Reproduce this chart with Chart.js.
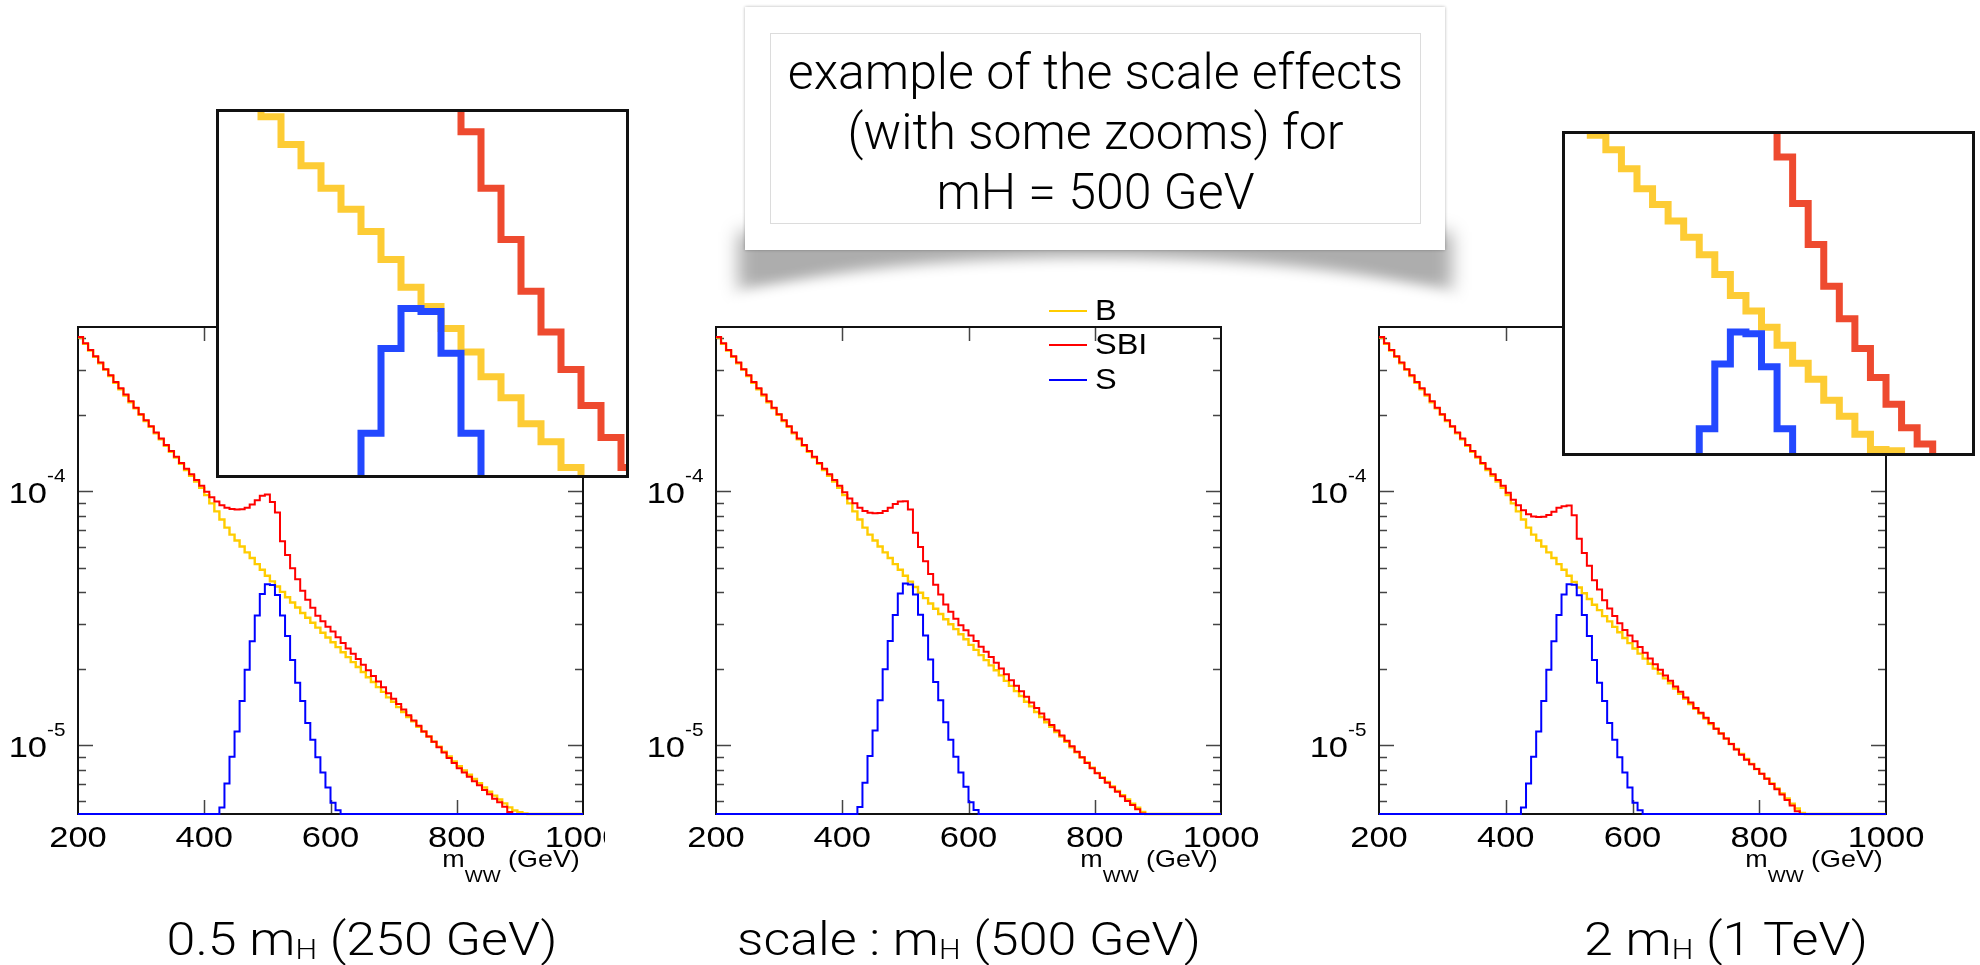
<!DOCTYPE html>
<html>
<head>
<meta charset="utf-8">
<script src="https://cdn.jsdelivr.net/npm/chart.js@4.4.1/dist/chart.umd.min.js"></script>
<style>
  html, body { margin: 0; padding: 0; background: #fff; }
  body { width: 1980px; height: 965px; position: relative; overflow: hidden;
         font-family: "Liberation Sans", Arial, Helvetica, sans-serif; color: #000; }
  .main { position: absolute; z-index: 1; }
  .inset { position: absolute; z-index: 2; border: 3px solid #111; background: #fff; }
  .inset canvas { display: block; }
  .xtitle { position: absolute; z-index: 3; font-size: 24px; line-height: 24px; white-space: nowrap;
            transform: scaleX(1.12); transform-origin: right top; }
  .xtitle .sub { position: relative; top: 15px; font-size: 17px; }
  .leg { position: absolute; z-index: 3; }
  .leg .ln { position: absolute; left: 0; width: 38px; height: 2px; }
  .leg .tx { position: absolute; left: 46px; font-size: 29px; line-height: 29px; white-space: nowrap;
             transform: scaleX(1.12); transform-origin: left top; }
  .cap { position: absolute; z-index: 3; width: 600px; text-align: center; white-space: nowrap;
         font-family: "Helvetica Neue", Roboto, "Open Sans", sans-serif; font-weight: 300;
         font-size: 46px; line-height: 46px; transform: scaleX(1.13); transform-origin: center top; }
  .cap sub { font-size: 27px; vertical-align: -4px; line-height: 0; }
  .tshadow { position: absolute; z-index: 0; left: 738px; top: 232px; width: 714px; height: 58px;
             background: rgba(0,0,0,0.32); filter: blur(9px); }
  .tcover { position: absolute; z-index: 0; left: 712px; top: 257px; width: 766px; height: 130px;
            border-radius: 50%; background: #fff; filter: blur(7px); }
  .tbox { position: absolute; z-index: 4; left: 745px; top: 7px; width: 700px; height: 243px;
          background: #fff; box-shadow: 0 0 3px rgba(0,0,0,0.3); }
  .tinner { position: absolute; left: 25px; top: 26px; width: 651px; height: 191px;
            border: 1px solid #dcdcdc; text-align: center;
            font-family: "Helvetica Neue", Roboto, "Open Sans", sans-serif; font-weight: 300;
            font-size: 50px; line-height: 60px; padding-top: 8px; box-sizing: border-box; }
</style>
</head>
<body>

<div class="tshadow"></div>
<div class="tcover"></div>
<div class="tbox"><div class="tinner">example of the scale effects<br>(with some zooms) for<br>mH = 500 GeV</div></div>

<canvas id="mainL" class="main" width="605" height="600" style="left:0px;top:300px"></canvas>
<canvas id="mainM" class="main" width="640" height="600" style="left:640px;top:300px"></canvas>
<canvas id="mainR" class="main" width="660" height="600" style="left:1300px;top:300px"></canvas>

<div class="inset" style="left:216px;top:109px"><canvas id="insetL" width="407" height="363"></canvas></div>
<div class="inset" style="left:1562px;top:131px"><canvas id="insetR" width="407" height="319"></canvas></div>

<div class="xtitle" style="right:1400px;top:847px">m<span class="sub">WW</span> (GeV)</div>
<div class="xtitle" style="right:762px;top:847px">m<span class="sub">WW</span> (GeV)</div>
<div class="xtitle" style="right:97px;top:847px">m<span class="sub">WW</span> (GeV)</div>

<div class="leg" style="left:1049px;top:0px">
  <div class="ln" style="top:310px;background:#ffcc00"></div><div class="tx" style="top:296px">B</div>
  <div class="ln" style="top:344px;background:#ff0000"></div><div class="tx" style="top:330px">SBI</div>
  <div class="ln" style="top:379px;background:#0000ff"></div><div class="tx" style="top:365px">S</div>
</div>

<div class="cap" style="left:62px;top:916px">0.5 m<sub>H</sub> (250 GeV)</div>
<div class="cap" style="left:669px;top:916px">scale : m<sub>H</sub> (500 GeV)</div>
<div class="cap" style="left:1426px;top:916px">2 m<sub>H</sub> (1 TeV)</div>

<script>
// histogram binning: 100 bins of 8 GeV from 200 to 1000
const BIN_START = 200;
const BIN_WIDTH = 8;

const xTickValues = [200, 400, 600, 800, 1000];
const xTickLabels = ['200', '400', '600', '800', '1000'];
const yDecades = [1e-5, 1e-4];
const yDecadeExp = ['-5', '-4'];

const Y_MIN = 5.35e-6;
const Y_MAX = 4.43e-4;

// ---- 0.5 mH ----
const leftB = [
  4.03e-4, 3.80e-4, 3.58e-4, 3.38e-4, 3.19e-4, 3.01e-4, 2.84e-4, 2.67e-4, 2.52e-4, 2.38e-4,
  2.24e-4, 2.12e-4, 2.00e-4, 1.89e-4, 1.79e-4, 1.69e-4, 1.60e-4, 1.51e-4, 1.43e-4, 1.355e-4,
  1.28e-4, 1.21e-4, 1.15e-4, 1.09e-4, 1.03e-4, 9.64e-5, 8.95e-5, 8.32e-5, 7.73e-5, 7.18e-5,
  6.74e-5, 6.39e-5, 6.05e-5, 5.74e-5, 5.45e-5, 5.16e-5, 4.90e-5, 4.64e-5, 4.41e-5, 4.21e-5,
  4.01e-5, 3.82e-5, 3.64e-5, 3.48e-5, 3.31e-5, 3.17e-5, 3.03e-5, 2.90e-5, 2.77e-5, 2.65e-5,
  2.54e-5, 2.43e-5, 2.32e-5, 2.22e-5, 2.12e-5, 2.03e-5, 1.94e-5, 1.85e-5, 1.77e-5, 1.69e-5,
  1.62e-5, 1.54e-5, 1.48e-5, 1.41e-5, 1.35e-5, 1.29e-5, 1.24e-5, 1.18e-5, 1.13e-5, 1.08e-5,
  1.03e-5, 9.86e-6, 9.42e-6, 9.01e-6, 8.61e-6, 8.25e-6, 7.94e-6, 7.64e-6, 7.35e-6, 7.07e-6,
  6.80e-6, 6.55e-6, 6.32e-6, 6.10e-6, 5.89e-6, 5.68e-6, 5.52e-6, 5.44e-6, 5.38e-6, 0,
  0, 0, 0, 0, 0, 0, 0, 0, 0, 0
];
const leftSBI = [
  4.05e-4, 3.82e-4, 3.60e-4, 3.40e-4, 3.21e-4, 3.02e-4, 2.86e-4, 2.69e-4, 2.54e-4, 2.40e-4,
  2.26e-4, 2.13e-4, 2.01e-4, 1.90e-4, 1.80e-4, 1.70e-4, 1.61e-4, 1.52e-4, 1.44e-4, 1.365e-4,
  1.29e-4, 1.225e-4, 1.165e-4, 1.105e-4, 1.05e-4, 9.95e-5, 9.45e-5, 9.10e-5, 8.80e-5, 8.60e-5,
  8.50e-5, 8.46e-5, 8.48e-5, 8.60e-5, 8.85e-5, 9.20e-5, 9.60e-5, 9.70e-5, 9.07e-5, 8.23e-5,
  6.35e-5, 5.60e-5, 4.97e-5, 4.50e-5, 4.05e-5, 3.73e-5, 3.47e-5, 3.23e-5, 3.07e-5, 2.92e-5,
  2.80e-5, 2.66e-5, 2.52e-5, 2.40e-5, 2.29e-5, 2.18e-5, 2.07e-5, 1.97e-5, 1.87e-5, 1.78e-5,
  1.69e-5, 1.60e-5, 1.52e-5, 1.45e-5, 1.38e-5, 1.31e-5, 1.25e-5, 1.19e-5, 1.13e-5, 1.08e-5,
  1.03e-5, 9.80e-6, 9.35e-6, 8.90e-6, 8.50e-6, 8.10e-6, 7.80e-6, 7.50e-6, 7.20e-6, 6.95e-6,
  6.65e-6, 6.40e-6, 6.15e-6, 5.95e-6, 5.72e-6, 5.45e-6, 0, 0, 0, 0,
  0, 0, 0, 0, 0, 0, 0, 0, 0, 0
];
const leftS = [
  0, 0, 0, 0, 0, 0, 0, 0, 0, 0,
  0, 0, 0, 0, 0, 0, 0, 0, 0, 0,
  0, 0, 0, 0, 0, 0, 0, 0, 5.67e-6, 7.05e-6,
  9.00e-6, 1.13e-5, 1.49e-5, 1.98e-5, 2.56e-5, 3.24e-5, 3.93e-5, 4.30e-5, 4.27e-5, 3.90e-5,
  3.24e-5, 2.69e-5, 2.16e-5, 1.76e-5, 1.49e-5, 1.22e-5, 1.05e-5, 8.95e-6, 7.79e-6, 6.81e-6,
  5.93e-6, 5.54e-6, 0, 0, 0, 0, 0, 0, 0, 0,
  0, 0, 0, 0, 0, 0, 0, 0, 0, 0,
  0, 0, 0, 0, 0, 0, 0, 0, 0, 0,
  0, 0, 0, 0, 0, 0, 0, 0, 0, 0,
  0, 0, 0, 0, 0, 0, 0, 0, 0, 0
];

// ---- mH ----
const midB = [
  4.03e-4, 3.80e-4, 3.58e-4, 3.38e-4, 3.19e-4, 3.01e-4, 2.84e-4, 2.67e-4, 2.52e-4, 2.38e-4,
  2.24e-4, 2.12e-4, 2.00e-4, 1.89e-4, 1.79e-4, 1.69e-4, 1.60e-4, 1.51e-4, 1.43e-4, 1.355e-4,
  1.28e-4, 1.21e-4, 1.15e-4, 1.09e-4, 1.03e-4, 9.64e-5, 8.95e-5, 8.32e-5, 7.73e-5, 7.18e-5,
  6.74e-5, 6.39e-5, 6.05e-5, 5.74e-5, 5.45e-5, 5.16e-5, 4.90e-5, 4.64e-5, 4.40e-5, 4.19e-5,
  3.98e-5, 3.79e-5, 3.61e-5, 3.44e-5, 3.28e-5, 3.13e-5, 2.99e-5, 2.86e-5, 2.73e-5, 2.61e-5,
  2.48e-5, 2.37e-5, 2.26e-5, 2.16e-5, 2.06e-5, 1.97e-5, 1.88e-5, 1.79e-5, 1.71e-5, 1.63e-5,
  1.56e-5, 1.48e-5, 1.42e-5, 1.35e-5, 1.29e-5, 1.23e-5, 1.18e-5, 1.125e-5, 1.08e-5, 1.03e-5,
  9.80e-6, 9.37e-6, 8.93e-6, 8.53e-6, 8.14e-6, 7.77e-6, 7.46e-6, 7.16e-6, 6.87e-6, 6.60e-6,
  6.34e-6, 6.10e-6, 5.87e-6, 5.66e-6, 5.45e-6, 0, 0, 0, 0, 0,
  0, 0, 0, 0, 0, 0, 0, 0, 0, 0
];
const midSBI = [
  4.05e-4, 3.82e-4, 3.60e-4, 3.40e-4, 3.21e-4, 3.02e-4, 2.86e-4, 2.69e-4, 2.54e-4, 2.40e-4,
  2.26e-4, 2.13e-4, 2.01e-4, 1.90e-4, 1.80e-4, 1.70e-4, 1.61e-4, 1.52e-4, 1.44e-4, 1.365e-4,
  1.29e-4, 1.225e-4, 1.165e-4, 1.105e-4, 1.05e-4, 9.90e-5, 9.35e-5, 8.95e-5, 8.60e-5, 8.35e-5,
  8.22e-5, 8.18e-5, 8.20e-5, 8.35e-5, 8.60e-5, 8.90e-5, 9.10e-5, 9.12e-5, 8.47e-5, 6.86e-5,
  6.02e-5, 5.29e-5, 4.72e-5, 4.28e-5, 3.92e-5, 3.58e-5, 3.35e-5, 3.14e-5, 2.96e-5, 2.83e-5,
  2.70e-5, 2.57e-5, 2.44e-5, 2.33e-5, 2.22e-5, 2.11e-5, 2.00e-5, 1.90e-5, 1.80e-5, 1.71e-5,
  1.63e-5, 1.55e-5, 1.47e-5, 1.40e-5, 1.33e-5, 1.26e-5, 1.20e-5, 1.14e-5, 1.09e-5, 1.04e-5,
  9.90e-6, 9.40e-6, 8.95e-6, 8.50e-6, 8.10e-6, 7.75e-6, 7.42e-6, 7.10e-6, 6.82e-6, 6.55e-6,
  6.28e-6, 6.02e-6, 5.80e-6, 5.58e-6, 5.38e-6, 0, 0, 0, 0, 0,
  0, 0, 0, 0, 0, 0, 0, 0, 0, 0
];
const midS = [
  0, 0, 0, 0, 0, 0, 0, 0, 0, 0,
  0, 0, 0, 0, 0, 0, 0, 0, 0, 0,
  0, 0, 0, 0, 0, 0, 0, 0, 5.70e-6, 7.10e-6,
  9.05e-6, 1.14e-5, 1.50e-5, 1.99e-5, 2.57e-5, 3.25e-5, 3.95e-5, 4.33e-5, 4.29e-5, 3.92e-5,
  3.26e-5, 2.70e-5, 2.17e-5, 1.77e-5, 1.50e-5, 1.23e-5, 1.05e-5, 9.00e-6, 7.80e-6, 6.85e-6,
  5.95e-6, 5.55e-6, 0, 0, 0, 0, 0, 0, 0, 0,
  0, 0, 0, 0, 0, 0, 0, 0, 0, 0,
  0, 0, 0, 0, 0, 0, 0, 0, 0, 0,
  0, 0, 0, 0, 0, 0, 0, 0, 0, 0,
  0, 0, 0, 0, 0, 0, 0, 0, 0, 0
];

// ---- 2 mH ----
const rightB = [
  4.03e-4, 3.80e-4, 3.58e-4, 3.38e-4, 3.19e-4, 3.01e-4, 2.84e-4, 2.67e-4, 2.52e-4, 2.38e-4,
  2.24e-4, 2.12e-4, 2.00e-4, 1.89e-4, 1.79e-4, 1.69e-4, 1.60e-4, 1.51e-4, 1.43e-4, 1.355e-4,
  1.28e-4, 1.21e-4, 1.15e-4, 1.09e-4, 1.03e-4, 9.64e-5, 8.95e-5, 8.32e-5, 7.73e-5, 7.18e-5,
  6.74e-5, 6.39e-5, 6.05e-5, 5.74e-5, 5.45e-5, 5.16e-5, 4.90e-5, 4.64e-5, 4.39e-5, 4.17e-5,
  3.96e-5, 3.76e-5, 3.57e-5, 3.40e-5, 3.22e-5, 3.07e-5, 2.92e-5, 2.78e-5, 2.64e-5, 2.52e-5,
  2.40e-5, 2.29e-5, 2.19e-5, 2.09e-5, 2.00e-5, 1.91e-5, 1.83e-5, 1.75e-5, 1.67e-5, 1.59e-5,
  1.52e-5, 1.45e-5, 1.39e-5, 1.33e-5, 1.27e-5, 1.21e-5, 1.16e-5, 1.11e-5, 1.06e-5, 1.01e-5,
  9.65e-6, 9.22e-6, 8.81e-6, 8.42e-6, 8.05e-6, 7.70e-6, 7.38e-6, 7.06e-6, 6.75e-6, 6.45e-6,
  6.16e-6, 5.88e-6, 5.62e-6, 5.40e-6, 0, 0, 0, 0, 0, 0,
  0, 0, 0, 0, 0, 0, 0, 0, 0, 0
];
const rightSBI = [
  4.05e-4, 3.82e-4, 3.60e-4, 3.40e-4, 3.21e-4, 3.02e-4, 2.86e-4, 2.69e-4, 2.54e-4, 2.40e-4,
  2.26e-4, 2.13e-4, 2.01e-4, 1.90e-4, 1.80e-4, 1.70e-4, 1.61e-4, 1.52e-4, 1.44e-4, 1.365e-4,
  1.29e-4, 1.225e-4, 1.165e-4, 1.105e-4, 1.05e-4, 9.85e-5, 9.25e-5, 8.80e-5, 8.40e-5, 8.10e-5,
  7.95e-5, 7.90e-5, 7.92e-5, 8.05e-5, 8.30e-5, 8.60e-5, 8.72e-5, 8.78e-5, 8.04e-5, 6.49e-5,
  5.70e-5, 5.08e-5, 4.46e-5, 4.10e-5, 3.72e-5, 3.45e-5, 3.22e-5, 3.02e-5, 2.84e-5, 2.70e-5,
  2.56e-5, 2.43e-5, 2.31e-5, 2.19e-5, 2.08e-5, 1.98e-5, 1.88e-5, 1.79e-5, 1.70e-5, 1.62e-5,
  1.54e-5, 1.47e-5, 1.40e-5, 1.34e-5, 1.28e-5, 1.22e-5, 1.16e-5, 1.11e-5, 1.06e-5, 1.01e-5,
  9.60e-6, 9.15e-6, 8.75e-6, 8.40e-6, 8.05e-6, 7.70e-6, 7.36e-6, 7.02e-6, 6.70e-6, 6.38e-6,
  6.08e-6, 5.78e-6, 5.48e-6, 0, 0, 0, 0, 0, 0, 0,
  0, 0, 0, 0, 0, 0, 0, 0, 0, 0
];
const rightS = [
  0, 0, 0, 0, 0, 0, 0, 0, 0, 0,
  0, 0, 0, 0, 0, 0, 0, 0, 0, 0,
  0, 0, 0, 0, 0, 0, 0, 0, 5.67e-6, 7.05e-6,
  9.00e-6, 1.13e-5, 1.49e-5, 1.98e-5, 2.56e-5, 3.25e-5, 3.92e-5, 4.30e-5, 4.28e-5, 3.89e-5,
  3.25e-5, 2.69e-5, 2.16e-5, 1.76e-5, 1.49e-5, 1.22e-5, 1.05e-5, 8.95e-6, 7.79e-6, 6.81e-6,
  5.93e-6, 5.54e-6, 0, 0, 0, 0, 0, 0, 0, 0,
  0, 0, 0, 0, 0, 0, 0, 0, 0, 0,
  0, 0, 0, 0, 0, 0, 0, 0, 0, 0,
  0, 0, 0, 0, 0, 0, 0, 0, 0, 0,
  0, 0, 0, 0, 0, 0, 0, 0, 0, 0
];

// ---- zoomed insets (same 8 GeV bins) ----
const INSET_L_START = 416;
const insetLB = [7.60e-5, 7.30e-5, 6.95e-5, 6.61e-5, 6.21e-5, 5.92e-5, 5.63e-5, 5.37e-5, 5.11e-5, 4.80e-5, 4.51e-5,
                 4.32e-5, 4.11e-5, 3.90e-5, 3.69e-5, 3.52e-5, 3.32e-5, 3.19e-5, 3.01e-5, 2.85e-5, 2.72e-5, 2.60e-5];
const insetLSBI = [9.25e-5, 8.95e-5, 8.70e-5, 8.55e-5, 8.48e-5, 8.50e-5, 8.60e-5, 8.85e-5, 9.20e-5, 9.60e-5, 9.70e-5,
                   9.07e-5, 8.23e-5, 6.39e-5, 5.63e-5, 5.02e-5, 4.47e-5, 4.08e-5, 3.75e-5, 3.46e-5, 3.22e-5, 3.01e-5];
const insetLS = [null, 5.67e-6, 7.05e-6, 9.00e-6, 1.13e-5, 1.49e-5, 1.98e-5, 2.56e-5, 3.25e-5, 3.93e-5, 4.30e-5,
                 4.27e-5, 3.89e-5, 3.25e-5, 2.69e-5, 2.16e-5, 1.76e-5, 1.49e-5, 1.22e-5, 1.05e-5, 8.95e-6, 7.79e-6];

const INSET_R_START = 408;
const insetRB = [8.40e-5, 8.00e-5, 7.60e-5, 7.29e-5, 6.90e-5, 6.51e-5, 6.22e-5, 5.93e-5, 5.66e-5, 5.38e-5, 5.08e-5,
                 4.78e-5, 4.57e-5, 4.36e-5, 4.14e-5, 3.93e-5, 3.75e-5, 3.53e-5, 3.37e-5, 3.20e-5, 3.06e-5, 3.05e-5,
                 2.98e-5, 2.80e-5, 2.68e-5, 2.57e-5, 2.46e-5];
const insetRSBI = [9.50e-5, 9.10e-5, 8.80e-5, 8.40e-5, 8.10e-5, 7.95e-5, 7.90e-5, 7.92e-5, 8.05e-5, 8.30e-5, 8.60e-5,
                   8.75e-5, 8.78e-5, 8.04e-5, 7.14e-5, 6.24e-5, 5.54e-5, 4.91e-5, 4.47e-5, 4.10e-5, 3.77e-5, 3.49e-5,
                   3.26e-5, 3.11e-5, 2.90e-5, 2.75e-5, 2.60e-5];
const insetRS = [null, null, 5.67e-6, 7.05e-6, 9.00e-6, 1.13e-5, 1.49e-5, 1.98e-5, 2.56e-5, 3.25e-5, 3.92e-5,
                 4.30e-5, 4.28e-5, 3.89e-5, 3.25e-5, 2.69e-5, 2.16e-5, 1.76e-5, 1.49e-5, 1.22e-5, 1.05e-5, 8.95e-6,
                 7.79e-6, 6.81e-6, 5.93e-6, 5.54e-6, null];

const TEXT_STRETCH = 1.15;

// bins -> step points (left edges + closing right edge); empty bins sit on the axis floor
function histPoints(values, start, floor) {
  const fix = v => (v === null ? null : (floor ? Math.max(v, floor) : v));
  const pts = values.map((v, i) => ({ x: start + i * BIN_WIDTH, y: fix(v) }));
  pts.push({ x: start + values.length * BIN_WIDTH, y: fix(values[values.length - 1]) });
  return pts;
}

function series(label, values, start, floor, color, width, order) {
  return {
    label: label,
    data: histPoints(values, start, floor),
    borderColor: color,
    borderWidth: width,
    pointRadius: 0,
    stepped: 'before',
    fill: false,
    order: order,
    borderJoinStyle: 'miter',
    borderCapStyle: 'butt'
  };
}

function stretchedText(ctx, txt, x, y, align) {
  ctx.save();
  ctx.translate(x, y);
  ctx.scale(TEXT_STRETCH, 1);
  ctx.textAlign = align;
  ctx.fillText(txt, 0, 0);
  ctx.restore();
}

// ROOT-like frame: inward ticks on all four sides, labels with 10^n exponents
const rootFrame = {
  id: 'rootFrame',
  beforeDatasetsDraw(chart) {
    const { ctx, chartArea: a, scales: { x, y } } = chart;
    ctx.save();
    ctx.strokeStyle = '#444';
    ctx.lineWidth = 1.5;
    ctx.beginPath();
    xTickValues.forEach(v => {
      const px = Math.round(x.getPixelForValue(v)) + 0.5;
      if (px < a.left + 3 || px > a.right - 3) return;
      ctx.moveTo(px, a.bottom); ctx.lineTo(px, a.bottom - 14);
      ctx.moveTo(px, a.top); ctx.lineTo(px, a.top + 14);
    });
    [1e-6, 1e-5, 1e-4].forEach(d => {
      for (let m = 1; m <= 9; m++) {
        const v = m * d;
        if (v <= y.min || v >= y.max) continue;
        const py = Math.round(y.getPixelForValue(v)) + 0.5;
        const len = m === 1 ? 15 : 8;
        ctx.moveTo(a.left, py); ctx.lineTo(a.left + len, py);
        ctx.moveTo(a.right, py); ctx.lineTo(a.right - len, py);
      }
    });
    ctx.stroke();

    ctx.strokeStyle = '#111';
    ctx.lineWidth = 2;
    ctx.strokeRect(a.left, a.top, a.right - a.left, a.bottom - a.top);

    ctx.fillStyle = '#000';
    ctx.textBaseline = 'alphabetic';
    ctx.font = '30px "Liberation Sans", Arial, sans-serif';
    xTickValues.forEach((v, i) => {
      stretchedText(ctx, xTickLabels[i], x.getPixelForValue(v), a.bottom + 33, 'center');
    });
    yDecades.forEach((v, i) => {
      const py = y.getPixelForValue(v);
      ctx.font = '30px "Liberation Sans", Arial, sans-serif';
      stretchedText(ctx, '10', a.left - 31, py + 12, 'right');
      ctx.font = '18px "Liberation Sans", Arial, sans-serif';
      stretchedText(ctx, yDecadeExp[i], a.left - 31, py - 9, 'left');
    });
    ctx.restore();
  }
};

function baseOptions(xMin, xMax, yMin, yMax, padding) {
  return {
    responsive: false,
    animation: false,
    devicePixelRatio: 1,
    parsing: false,
    normalized: true,
    layout: { padding: padding },
    plugins: { legend: { display: false }, tooltip: { enabled: false } },
    scales: {
      x: { type: 'linear', min: xMin, max: xMax, display: false },
      y: { type: 'logarithmic', min: yMin, max: yMax, display: false }
    }
  };
}

function mainChart(id, b, sbi, s, padding) {
  const opts = baseOptions(200, 1000, Y_MIN, Y_MAX, padding);
  return new Chart(document.getElementById(id), {
    type: 'line',
    data: {
      datasets: [
        Object.assign(series('S', s, BIN_START, Y_MIN, '#0000ff', 2, 0), { clip: false }),
        Object.assign(series('SBI', sbi, BIN_START, Y_MIN, '#ff0000', 2, 1), { clip: false }),
        Object.assign(series('B', b, BIN_START, Y_MIN, '#ffcc00', 2.4, 2), { clip: false })
      ]
    },
    options: opts,
    plugins: [rootFrame]
  });
}

function insetChart(id, start, b, sbi, s, xMin, xMax, yMin, yMax) {
  return new Chart(document.getElementById(id), {
    type: 'line',
    data: {
      datasets: [
        series('S', s, start, null, '#2348ff', 7, 0),
        series('SBI', sbi, start, null, '#ee4a2f', 7, 1),
        series('B', b, start, null, '#fdcc35', 7, 2)
      ]
    },
    options: baseOptions(xMin, xMax, yMin, yMax, 0)
  });
}

mainChart('mainL', leftB, leftSBI, leftS, { left: 78, right: 22, top: 27, bottom: 86 });
mainChart('mainM', midB, midSBI, midS, { left: 76, right: 59, top: 27, bottom: 86 });
mainChart('mainR', rightB, rightSBI, rightS, { left: 79, right: 74, top: 27, bottom: 86 });

insetChart('insetL', INSET_L_START, insetLB, insetLSBI, insetLS, 423.2, 586.0, 2.96e-5, 6.68e-5);
insetChart('insetR', INSET_R_START, insetRB, insetRSBI, insetRS, 411.0, 620.2, 3.03e-5, 7.63e-5);
</script>
</body>
</html>
